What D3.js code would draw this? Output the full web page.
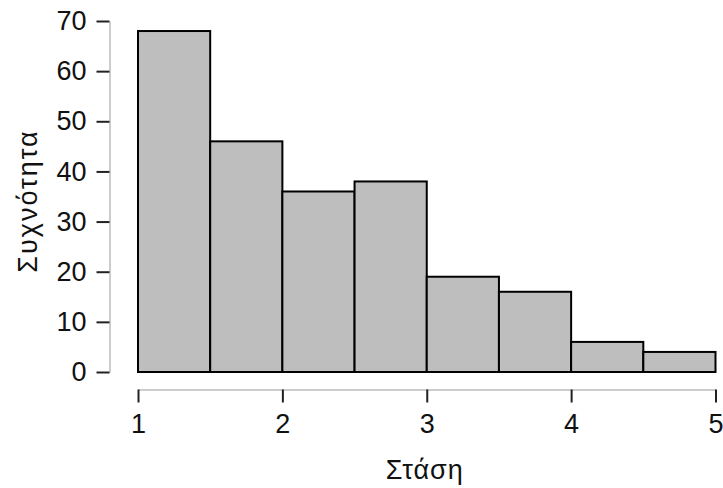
<!DOCTYPE html>
<html>
  <head>
    <meta charset="utf-8">
    <title>Histogram</title>
    <script src="https://d3js.org/d3.v7.min.js"></script>
    <style>
      body { margin: 0; background: #fff; }
      svg text { font-family: "Liberation Sans", Arial, sans-serif; fill: #111; font-size: 27px; }
    </style>
  </head>
  <body>
    <div id="graph-container"></div>
    <script>
      const binEdges = [1, 1.5, 2, 2.5, 3, 3.5, 4, 4.5, 5];
      const counts = [68, 46, 36, 38, 19, 16, 6, 4];
      const xTicks = [1, 2, 3, 4, 5];
      const yTicks = [0, 10, 20, 30, 40, 50, 60, 70];
      const xLabel = "Στάση";
      const yLabel = "Συχνότητα";

      const width = 723;
      const height = 488;

      const svg = d3.select("#graph-container")
        .append("svg")
        .attr("width", width)
        .attr("height", height);

      const x = d3.scaleLinear()
        .domain([1, 5])
        .range([138, 715.5]);

      const y = d3.scaleLinear()
        .domain([0, 70])
        .range([372, 21]);

      const bins = counts.map((c, i) => ({ x0: binEdges[i], x1: binEdges[i + 1], n: c }));

      svg.selectAll(".bar")
        .data(bins)
        .enter()
        .append("rect")
        .attr("class", "bar")
        .attr("x", d => x(d.x0))
        .attr("y", d => y(d.n))
        .attr("width", d => x(d.x1) - x(d.x0))
        .attr("height", d => y(0) - y(d.n))
        .attr("fill", "#bebebe")
        .attr("stroke", "#000")
        .attr("stroke-width", 2);

      // y axis
      const yAxis = svg.append("g")
        .attr("transform", "translate(109.5,0)")
        .call(d3.axisLeft(y).tickValues(yTicks).tickFormat(d3.format("d"))
          .tickSize(13).tickPadding(10).tickSizeOuter(0));
      yAxis.select(".domain").attr("stroke", "#999").attr("stroke-width", 1);
      yAxis.selectAll(".tick line").attr("stroke", "#222").attr("stroke-width", 2);

      // x axis
      const xAxis = svg.append("g")
        .attr("transform", "translate(0,389.5)")
        .call(d3.axisBottom(x).tickValues(xTicks).tickFormat(d3.format("d"))
          .tickSize(13).tickPadding(11).tickSizeOuter(0));
      xAxis.select(".domain").attr("stroke", "#999").attr("stroke-width", 1);
      xAxis.selectAll(".tick line").attr("stroke", "#222").attr("stroke-width", 2);

      svg.append("text")
        .attr("x", (x(1) + x(5)) / 2 - 2)
        .attr("y", 479)
        .attr("text-anchor", "middle")
        .style("letter-spacing", "1px")
        .text(xLabel);

      svg.append("text")
        .attr("transform", "translate(37,201) rotate(-90)")
        .attr("text-anchor", "middle")
        .style("letter-spacing", "2px")
        .text(yLabel);
    </script>
  </body>
</html>
